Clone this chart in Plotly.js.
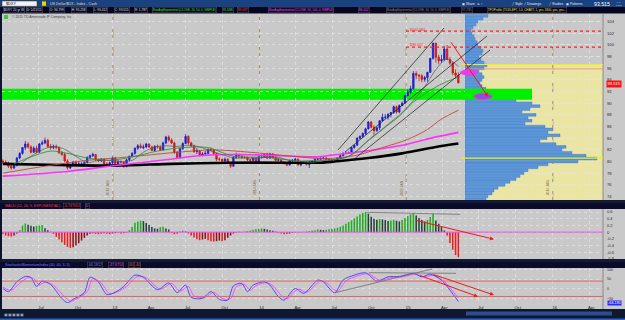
<!DOCTYPE html>
<html><head><meta charset="utf-8">
<script src="https://cdn.plot.ly/plotly-3.0.1.min.js"></script>
<style>html,body{margin:0;padding:0;background:#0c1430;overflow:hidden}#chart{width:625px;height:320px}</style>
</head><body><div id="chart"></div>
<script>
// ---------------- DATA (weekly $DXY, Apr 2012 - May 2015) ----------------
const weekStart = [2012, 3, 2]; // first weekly bar: Mon 2 Apr 2012
const opens = [80.1,79.9,79.8,79.2,78.9,79.3,80.6,81.4,82.4,83.0,
 82.5,81.6,82.3,81.6,83.0,83.2,83.6,82.6,82.4,82.6,
 82.4,81.5,81.2,80.1,78.9,79.4,79.9,79.5,79.6,79.6,
 79.8,80.7,81.0,81.2,80.3,80.1,80.4,79.6,79.5,79.8,
 80.6,79.6,80.0,79.9,79.2,80.3,80.9,81.4,82.3,82.7,
 82.4,82.5,83.0,82.5,81.9,82.6,82.5,82.0,83.2,84.2,
 83.7,83.2,81.6,80.7,82.2,83.1,84.3,83.2,82.7,81.7,
 81.9,81.1,81.3,81.4,82.1,82.0,81.4,80.4,80.4,80.1,
 80.4,79.7,79.2,80.7,81.2,80.9,80.7,80.7,80.3,80.2,
 80.6,80.0,80.8,80.7,81.2,80.6,81.3,80.7,80.2,80.3,
 79.7,79.7,79.4,80.2,80.2,80.4,79.4,79.9,79.8,79.5,
 79.9,80.0,80.4,80.4,80.5,80.6,80.4,80.1,80.2,80.2,
 80.6,81.0,81.4,81.4,81.5,82.4,82.8,84.0,84.3,84.8,
 85.6,86.8,85.9,85.3,85.8,87.0,87.6,87.6,88.1,88.4,
 89.4,88.5,89.6,90.0,91.3,91.9,92.5,95.1,94.8,94.7,
 94.1,94.4,95.3,97.7,100.3,97.9,97.3,97.5,99.3,97.5,
 96.9,95.2,94.8];
const highs = [80.4,80.2,80.0,79.4,79.6,80.8,81.6,82.5,83.5,83.3,
 82.8,82.6,82.7,83.2,83.6,84.1,83.9,83.0,82.9,82.9,
 82.6,81.8,81.5,80.4,79.6,80.1,80.2,80.0,79.9,80.0,
 80.9,81.2,81.5,81.3,80.5,80.6,80.5,79.9,80.0,80.8,
 80.8,80.3,80.2,80.0,80.5,81.0,81.6,82.4,83.0,83.1,
 82.9,83.2,83.1,82.7,82.8,82.9,82.7,83.4,84.4,84.5,
 84.0,83.4,81.8,82.4,83.3,84.7,84.5,83.4,82.9,82.3,
 82.0,81.6,81.8,82.2,82.4,82.1,81.5,80.7,80.5,80.7,
 80.6,79.9,80.9,81.5,81.4,81.3,81.0,80.9,80.5,80.8,
 80.7,81.0,81.2,81.4,81.5,81.5,81.4,80.9,80.6,80.4,
 80.1,79.9,80.3,80.4,80.6,80.5,80.0,80.0,79.9,80.1,
 80.2,80.5,80.6,80.8,80.8,80.8,80.5,80.4,80.4,80.7,
 81.1,81.6,81.7,81.7,82.5,82.9,84.2,84.5,85.0,85.8,
 86.9,86.9,86.2,86.0,87.1,88.2,88.1,88.3,88.5,89.6,
 89.6,89.8,90.3,91.5,92.3,93.0,95.5,95.5,95.0,95.0,
 94.7,95.4,97.8,100.4,100.4,98.3,98.3,99.8,100.0,97.9,
 97.0,95.8,95.3];
const lows = [79.6,79.5,78.9,78.6,78.7,79.2,80.4,81.2,82.0,82.2,
 81.4,81.5,81.4,81.5,82.8,83.0,82.4,82.0,82.1,82.1,
 81.3,81.0,79.9,78.6,78.7,79.2,79.3,79.2,79.2,79.3,
 79.7,80.4,80.8,80.1,79.9,79.9,79.4,79.2,79.3,79.5,
 79.4,79.4,79.6,78.9,79.0,80.0,80.7,81.2,82.0,82.2,
 82.1,82.3,82.3,81.8,81.7,82.2,81.8,81.9,83.0,83.4,
 83.0,81.3,80.5,80.5,82.0,83.0,82.9,82.5,81.5,81.3,
 80.9,80.9,81.0,81.2,81.8,81.2,80.1,80.1,79.8,79.9,
 79.6,78.9,79.1,80.5,80.6,80.5,80.5,80.1,79.9,79.9,
 79.9,79.9,80.5,80.6,80.4,80.5,80.5,80.0,80.0,79.6,
 79.5,79.2,79.3,79.9,80.0,79.3,79.2,79.6,79.3,78.9,
 79.7,79.8,80.2,80.3,80.4,80.3,79.9,79.8,80.0,80.1,
 80.5,80.9,81.2,81.3,81.4,82.2,82.7,83.8,84.0,84.6,
 85.5,85.7,84.5,85.1,85.4,86.9,87.3,87.2,87.6,88.2,
 88.2,88.3,89.5,89.9,91.2,91.6,92.4,94.1,93.8,93.6,
 93.7,93.7,95.2,97.5,97.0,96.7,96.9,97.3,97.4,96.6,
 94.8,94.3,93.4];
const closes = [79.9,79.8,79.2,78.9,79.3,80.6,81.4,82.4,83.0,82.5,
 81.6,82.3,81.6,83.0,83.2,83.6,82.6,82.4,82.6,82.4,
 81.5,81.2,80.1,78.9,79.4,79.9,79.5,79.6,79.6,79.8,
 80.7,81.0,81.2,80.3,80.1,80.4,79.6,79.5,79.8,80.6,
 79.6,80.0,79.9,79.2,80.3,80.9,81.4,82.3,82.7,82.4,
 82.5,83.0,82.5,81.9,82.6,82.5,82.0,83.2,84.2,83.7,
 83.2,81.6,80.7,82.2,83.1,84.3,83.2,82.7,81.7,81.9,
 81.1,81.3,81.4,82.1,82.0,81.4,80.4,80.4,80.1,80.4,
 79.7,79.2,80.7,81.2,80.9,80.7,80.7,80.3,80.2,80.6,
 80.0,80.8,80.7,81.2,80.6,81.3,80.7,80.2,80.3,79.7,
 79.7,79.4,80.2,80.2,80.4,79.4,79.9,79.8,79.5,79.9,
 80.0,80.4,80.4,80.5,80.6,80.4,80.1,80.2,80.2,80.6,
 81.0,81.4,81.4,81.5,82.4,82.8,84.0,84.3,84.8,85.6,
 86.8,85.9,85.3,85.8,87.0,87.6,87.6,88.1,88.4,89.4,
 88.5,89.6,90.0,91.3,91.9,92.5,95.1,94.8,94.7,94.1,
 94.4,95.3,97.7,100.3,97.9,97.3,97.5,99.3,97.5,96.9,
 95.2,94.8,93.515];

// moving averages (week index -> value)
const maGrayIdx = [6,10,14,18,22,26,30,34,38,42,46,50,54,58,62,66,70,74,78,82,86,90,94,98,102,106,110,114,118,122,126,130,134,138,142,146,150,154,158,162];
const maGrayVal = [79.6,80.9,82.0,82.6,82.1,80.9,79.8,80.2,80.2,80.0,80.2,81.6,82.5,82.7,82.6,82.8,82.5,81.8,81.2,80.6,80.6,80.6,80.7,80.7,80.2,80.0,79.8,80.2,80.3,80.7,81.8,83.7,85.2,86.8,88.4,90.5,92.8,95.8,97.6,96.3];
const maGreenIdx = [4,10,17,24,29,38,46,55,64,73,82,94,105,112,117,123,129,135,141,146,151,156,162];
const maGreenVal = [79.6,80.8,81.8,81.3,80.7,80.2,80.8,81.8,82.4,82.4,80.9,80.7,80.1,80.2,80.3,80.9,83.2,85.5,87.8,90.2,91.9,93.3,94.5];
const maRedIdx = [0,15,30,45,60,75,90,105,115,125,135,144,151,156,162];
const maRedVal = [78.0,79.2,80.2,80.8,81.5,82.0,81.5,80.8,80.5,81.0,82.4,83.8,85.5,87.3,88.8];
const maPinkIdx = [0,23,38,58,70,82,99,112,117,129,141,153,162];
const maPinkVal = [77.5,78.3,79.2,80.3,81.0,81.2,81.0,80.8,81.1,81.8,82.7,84.1,85.0];
const maBlackIdx = [0,20,40,60,80,100,113,118,130,142,154,162];
const maBlackVal = [79.6,79.4,79.3,79.6,79.8,79.8,79.8,80.0,80.6,81.4,82.5,83.1];

// volume (TPO) profile by price
const profilePrices = [105,104.5,104,103.5,103,102.5,102,101.5,101,100.5,100,99.5,99,98.5,98,97.5,97,96.5,96,95.5,95,94.5,94,93.5,93,92.5,92,91.5,91,90.5,90,89.5,89,88.5,88,87.5,87,86.5,86,85.5,85,84.5,84,83.5,83,82.5,82,81.5,81,80.5,80,79.5,79,78.5,78,77.5,77,76.5,76,75.5,75,74.5,74,73.5];
const profileVolume = [23,18,13,11,8,6,7,9,10,12,13,16,18,17,14,16,19,22,19,14,17,19,17,15,17,21,25,29,35,51,67,75,65,57,71,63,67,60,80,88,83,95,82,75,91,101,97,107,121,132,113,83,73,63,59,55,51,45,40,33,29,27,23,21];

// MACD histogram (weekly)
const macdHist = [-0.05,-0.10,-0.12,-0.13,-0.10,-0.04,
 0.06,0.20,0.26,0.22,0.19,0.17,0.18,0.20,0.21,0.12,0.06,0.01,
 -0.05,-0.14,-0.22,-0.30,-0.38,-0.44,-0.47,-0.45,-0.40,-0.33,-0.25,-0.17,-0.10,-0.05,
 -0.03,-0.05,-0.06,-0.04,-0.03,-0.05,-0.06,-0.04,-0.03,-0.02,-0.04,-0.03,-0.01,
 0.06,0.15,0.28,0.32,0.34,0.33,0.27,0.21,0.15,0.11,0.10,0.15,0.16,0.11,0.08,
 -0.03,-0.06,-0.04,0.02,0.04,0.02,
 -0.04,-0.10,-0.16,-0.21,-0.24,-0.22,-0.20,-0.24,-0.27,-0.28,-0.27,-0.25,-0.27,-0.24,-0.17,-0.10,
 -0.04,-0.02,0.01,-0.01,0.02,0.03,
 0.05,0.07,0.09,0.10,0.11,0.10,0.08,0.06,0.04,0.02,
 -0.02,-0.04,-0.06,-0.05,-0.04,-0.02,-0.01,-0.02,-0.01,0.01,0.02,
 0.03,0.05,0.06,0.08,0.07,0.06,0.07,0.09,0.10,0.11,
 0.13,0.16,0.20,0.25,0.30,0.35,0.41,0.47,0.53,0.58,
 0.60,0.55,0.46,0.40,0.37,0.39,0.38,0.36,0.33,0.35,
 0.37,0.34,0.32,0.36,0.42,0.48,0.53,0.57,0.50,0.42,
 0.36,0.32,0.36,0.45,0.55,0.35,0.25,0.15,
 0.05,-0.10,-0.32,-0.52,-0.68,-0.747];

// Stochastic Momentum Index (week index -> value)
const smiIdx = [0,2,5,8,10,12,14,17,21,23,25,29,31,34,37,40,43,47,50,55,59,62,65,67,71,74,77,80,82,85,87,89,93,95,98,100,104,107,112,114,118,121,125,129,133,137,141,146,149,152,156,159,162];
const smiVal = [2,-15,36,64,59,12,40,22,-50,-73,-55,-20,60,35,-30,-18,12,71,60,-5,30,-20,19,-45,-50,-15,-55,-59,15,28,-15,19,36,19,-41,-59,2,-24,45,36,-21,45,71,83,40,62,64,80,62,76,45,-7,-66];
const smiAvgIdx = [0,3,6,9,11,13,15,18,22,24,26,30,32,35,38,41,44,48,51,56,60,63,66,68,72,75,78,81,83,86,88,90,94,96,99,101,105,108,113,115,119,122,126,130,134,138,142,147,150,153,157,160,162];
const smiAvgVal = [8,-8,28,58,52,20,34,18,-42,-65,-55,-15,52,30,-25,-14,12,64,56,-2,28,-12,12,-38,-44,-18,-50,-52,10,22,-8,16,32,16,-34,-52,-2,-18,40,32,-12,40,66,78,44,58,62,76,62,70,38,-12,-48];

// axis ticks
const quarterTicks = ['2012-07-01','2012-10-01','2013-01-01','2013-04-01','2013-07-01','2013-10-01','2014-01-01','2014-04-01','2014-07-01','2014-10-01','2015-01-01','2015-04-01','2015-07-01','2015-10-01','2016-01-01','2016-04-01'];
const quarterLabels = ['Jul','Oct','13','Apr','Jul','Oct','14','Apr','Jul','Oct','15','Apr','Jul','Oct','16','Apr'];
const yearLines = ['2013-01-01','2014-01-01','2015-01-01','2016-01-01'];
const yearLabels = ['2013 JAN','2014 JAN','2015 JAN','2016 JAN'];
const priceTicks = [74,76,78,80,82,84,86,88,90,92,94,96,98,100,102,104];
const macdTicks = [-0.8,-0.6,-0.4,-0.2,0,0.2,0.4,0.6];
const smiTicks = [-50,0,50,100];

// ---------------- BUILD ----------------
const weeks = closes.map((_, i) => {
  const d = new Date(Date.UTC(weekStart[0], weekStart[1], weekStart[2] + 7 * i));
  return d.toISOString().slice(0, 10);
});
const at = idx => idx.map(i => weeks[i]);
const P = x => x / 625, Q = y => 1 - y / 320;
const FONT = 'Liberation Sans, Arial, sans-serif';

const macdColors = macdHist.map((v, i) => {
  const prev = i > 0 ? macdHist[i - 1] : v;
  if (v >= 0) return v >= prev ? '#1eb01e' : '#234538';
  return v <= prev ? '#f01c1c' : '#8c1414';
});

const lineTrace = (idx, val, color, width, yaxis) => ({
  type: 'scatter', mode: 'lines', x: at(idx), y: val, xaxis: 'x', yaxis: yaxis || 'y',
  line: {color, width, shape: 'spline', smoothing: 0.8}, hoverinfo: 'skip'
});

const data = [
  lineTrace(maBlackIdx, maBlackVal, '#000000', 2.6),
  lineTrace(maPinkIdx, maPinkVal, '#ff30ff', 1.6),
  lineTrace(maRedIdx, maRedVal, '#c8413c', 0.9),
  lineTrace(maGreenIdx, maGreenVal, '#2e9a36', 0.9),
  lineTrace(maGrayIdx, maGrayVal, '#5a5a5a', 0.7),
  {
    type: 'candlestick', x: weeks, open: opens, high: highs, low: lows, close: closes,
    xaxis: 'x', yaxis: 'y', whiskerwidth: 0, hoverinfo: 'skip',
    increasing: {line: {color: '#1a1ac8', width: 0.8}, fillcolor: '#2424e6'},
    decreasing: {line: {color: '#c81414', width: 0.8}, fillcolor: '#e61e1e'}
  },
  {
    type: 'bar', orientation: 'h', x: profileVolume, y: profilePrices, xaxis: 'x2', yaxis: 'y',
    width: 0.47, marker: {color: '#5b97dd', line: {color: '#3e76c2', width: 0.4}}, hoverinfo: 'skip'
  },
  {
    type: 'bar', x: weeks, y: macdHist, xaxis: 'x', yaxis: 'y2',
    marker: {color: macdColors, line: {width: 0}}, hoverinfo: 'skip'
  },
  lineTrace(smiAvgIdx, smiAvgVal, '#ff4cff', 1, 'y3'),
  lineTrace(smiIdx, smiVal, '#4a4aff', 1, 'y3')
];

// shapes
const rect = (x0, y0, x1, y1, fill, layer, line) => ({type: 'rect', xref: 'paper', yref: 'paper',
  x0: P(x0), x1: P(x1), y0: Q(y1), y1: Q(y0), fillcolor: fill, line: line || {width: 0}, layer: layer || 'below'});
const seg = (x0, y0, x1, y1, color, w, dash) => ({type: 'line', xref: 'paper', yref: 'paper',
  x0: P(x0), y0: Q(y0), x1: P(x1), y1: Q(y1), line: {color, width: w || 1, dash: dash || 'solid'}, layer: 'above'});
const hline = (x0, x1, yref, v, color, w, dash, layer) => ({type: 'line', xref: 'paper', yref,
  x0: P(x0), x1: P(x1), y0: v, y1: v, line: {color, width: w || 1, dash: dash || 'solid'}, layer: layer || 'above'});

const shapes = [
  rect(0, 0, 625, 7, '#1b4280'),
  rect(0, 7, 625, 13.5, '#06061e'),
  rect(2, 13.5, 625, 200, '#c9c9c9'),
  rect(0, 200, 625, 203, '#141a30'),
  rect(0, 203, 625, 209, '#0a0a2c'),
  rect(2, 209, 625, 259, '#c9c9c9'),
  rect(0, 259, 625, 262, '#141a30'),
  rect(0, 262, 625, 268, '#0a0a2c'),
  rect(2, 268, 625, 309, '#c9c9c9'),
  rect(0, 309, 625, 320, '#101830'),
  // value area (yellow)
  {type: 'rect', xref: 'paper', yref: 'y', x0: P(465), x1: P(603), y0: 73.4, y1: 96.65, fillcolor: '#ebe5a4', line: {width: 0}, layer: 'below'},
  // green support band (left part, under the candles)
  {type: 'rect', xref: 'paper', yref: 'y', x0: P(2), x1: P(465), y0: 90.6, y1: 92.5, fillcolor: '#00f000', line: {width: 0}, layer: 'below'},
  // green band over the profile
  {type: 'rect', xref: 'paper', yref: 'y', x0: P(465), x1: P(532), y0: 90.6, y1: 92.5, fillcolor: '#00f000', line: {width: 0}, layer: 'above'},
  // axis separators
  seg(603, 13.5, 603, 200, '#7a7a7a', 0.8), seg(603, 209, 603, 259, '#7a7a7a', 0.8), seg(603, 268, 603, 309, '#7a7a7a', 0.8),
  // key levels
  hline(406, 603, 'y', 102.38, '#ff2020', 1.2, 'dot'),
  hline(406, 603, 'y', 99.62, '#ff2020', 1.2, 'dot'),
  hline(461, 603, 'y', 96.65, '#f4f000', 1),
  hline(465, 603, 'y', 95.9, '#f08a78', 0.8),
  hline(461, 603, 'y', 80.6, '#f4f000', 1.2),
  // channel drawings
  seg(338, 150, 444, 28, '#1a1a1a', 0.7),
  seg(345, 152, 487, 36, '#1a1a1a', 0.7),
  seg(353, 160, 490, 50, '#1a1a1a', 0.7),
  // ellipses
  {type: 'circle', xref: 'paper', yref: 'paper', x0: P(460), x1: P(478), y0: Q(75.5), y1: Q(69.5), fillcolor: '#ee38ee', line: {width: 0}, layer: 'above'},
  {type: 'circle', xref: 'paper', yref: 'paper', x0: P(474), x1: P(492), y0: Q(99.5), y1: Q(93.3), fillcolor: '#8c4ee2', line: {color: '#e040e0', width: 1}, layer: 'above'},
  // MACD zero & drawing
  hline(2, 603, 'y2', 0, '#ff40ff', 1),
  seg(367, 212.3, 460, 214.3, '#7a7a7a', 0.9),
  // SMI levels & drawings
  hline(2, 603, 'y3', 40, '#e06464', 1),
  hline(2, 603, 'y3', -40, '#e06464', 1),
  seg(335, 292.7, 432, 269, '#6e6e6e', 0.8),
  seg(369, 272.7, 456, 273.3, '#6e6e6e', 0.8),
  // symbol box & icon
  rect(2, 1, 37, 6.3, '#f2f2f2', 'above', {color: '#333', width: 0.5}),
  rect(42, 1.4, 46, 5.8, '#f0d000', 'above'),
  rect(4, 15, 8, 19, '#3cc83c', 'above')
];
yearLines.forEach(d => shapes.push({type: 'line', xref: 'x', yref: 'paper', x0: d, x1: d, y0: Q(200), y1: Q(13.5),
  line: {color: '#a58d62', width: 1, dash: 'dash'}, layer: 'below'}));

// annotations
const txt = (x, y, text, color, size, extra) => Object.assign({xref: 'paper', yref: 'paper', x: P(x), y: Q(y), text,
  showarrow: false, xanchor: 'left', yanchor: 'middle', font: {family: FONT, size: size || 3.6, color: color || '#ddd'}}, extra || {});
const box = (x, y, text, color, size) => txt(x, y, text, color, size, {bordercolor: '#555', borderwidth: 0.5, borderpad: 0.3, bgcolor: '#06061e'});
const arrow = (x0, y0, x1, y1, color) => ({xref: 'paper', yref: 'paper', x: P(x1), y: Q(y1), ax: x0 - x1, ay: y0 - y1,
  axref: 'pixel', ayref: 'pixel', text: '', showarrow: true, arrowhead: 2, arrowsize: 0.8, arrowwidth: 1, arrowcolor: color});

const annotations = [
  txt(4, 3.7, '$DXY', '#000', 3.8),
  txt(48, 3.7, 'US Dollar/$DX - Index - Cash', '#e8dca8', 3.6),
  txt(460, 3.7, '\u25A3 Share  \u21C5 \u2195', '#e8e8f0', 3.4),
  txt(509, 3.7, '\u2571 Style', '#e8e8f0', 3.4),
  txt(521, 3.7, '\u2571 Drawings', '#e8e8f0', 3.4),
  txt(546, 3.7, '\u2571 Studies', '#e8e8f0', 3.4),
  txt(564, 3.7, '\u25A3 Patterns', '#e8e8f0', 3.4),
  txt(592, 3.8, '93.515', '#ffffff', 5.2),
  txt(613, 3.6, '-1.44<br>-1.53%', '#c8c8d8', 2.2),
  box(3, 10.2, '$DXY 20 yr W', '#d8d8ff', 3.2),
  box(26, 10.2, 'D: 5/21/15', '#e0e0e0', 3.2),
  box(49, 10.2, 'O: 94.799', '#e0e0e0', 3.2),
  box(71, 10.2, 'H: 95.258', '#e0e0e0', 3.2),
  box(93, 10.2, 'L: 93.412', '#e0e0e0', 3.2),
  box(114, 10.2, 'C: 93.515', '#e0e0e0', 3.2),
  box(134, 10.2, 'R: 1.787', '#e0e0e0', 3.2),
  box(152, 10.2, 'MovAvgExponential (CLOSE, 20, 50, 0, SIMPLE)', '#3ee03e', 2.9),
  box(222, 10.2, '95.588', '#3ee03e', 3.2),
  box(237, 10.2, '89.037', '#ff4040', 3.2),
  box(268, 10.2, 'MovAvgExponential (CLOSE, 50, 100, 0, SIMPLE)', '#ff40ff', 2.9),
  box(358, 10.2, '86.002', '#ff40ff', 3.2),
  box(386, 10.2, 'MovAvgExponential (CLOSE, 10, 10, 0, SIMPLE)', '#8c8c8c', 2.9),
  box(461, 10.2, '97.235', '#8c8c8c', 3.2),
  box(487, 10.2, 'TPOProfile (TICKLEFT, 1.0, CHART, 1, yes, 1800, yes, yes...', '#f0e040', 2.9),
  txt(10, 17.2, '\u00A9 2015 TD Ameritrade IP Company, Inc.', '#444', 3.4),
  txt(408, 30.2, '$102.384', '#ff2020', 3.6),
  txt(408, 45.2, '$99.617', '#ff2020', 3.6),
  txt(614, 84.3, '93.515', '#ffffff', 4.2, {xanchor: 'center', bgcolor: '#ff1010', borderpad: 0.4}),
  txt(3, 206, 'MACD (12, 26, 9, EXPONENTIAL)', '#ff3434', 3.6),
  box(63, 206, '-0.747052', '#ff3434'),
  box(85, 206, 'D', '#ff40ff'),
  txt(3, 265, 'StochasticMomentumIndex (40, 40, 3, 5)', '#7a7aff', 3.6),
  box(87, 265, '-66.1812', '#7a7aff'),
  box(108, 265, '-47.6714', '#ff40ff'),
  box(128, 265, '40', '#ff4040'),
  box(134, 265, '-40', '#ff4040'),
  txt(614, 302.8, '-66.181', '#ffffff', 3.8, {xanchor: 'center', bgcolor: '#2a2aff', borderpad: 0}),
  txt(2, 314.5, '\u25A3\u25A3\u25A3\u25A3\u25A3', '#9aa8c8', 4),
  arrow(450, 40.7, 488, 96.7, '#f01818'),
  arrow(414.5, 220, 494, 239.3, '#f01818'),
  arrow(418.5, 275, 478, 296.7, '#f01818'),
  arrow(432, 274, 494, 295, '#f01818')
];
yearLines.forEach((d, i) => annotations.push({xref: 'x', yref: 'paper', x: d, y: Q(188), text: yearLabels[i], textangle: -90,
  showarrow: false, xanchor: 'right', xshift: -0.5, font: {family: FONT, size: 3.4, color: '#8a7048'}}));
shapes.push(rect(466, 311.5, 612, 315.5, '#2b4f8e', 'above'));
shapes.push(rect(0, 318.5, 625, 320, '#2a62c8', 'above'));

const gridBase = {showgrid: true, gridcolor: '#e2e2e2', griddash: 'dot', gridwidth: 0.8, zeroline: false, showline: false, ticks: '', fixedrange: true};
const layout = {
  width: 625, height: 320, margin: {l: 0, r: 0, t: 0, b: 0},
  paper_bgcolor: '#0c1430', plot_bgcolor: 'rgba(0,0,0,0)', showlegend: false, bargap: 0.45, dragmode: false,
  font: {family: FONT, size: 4, color: '#222'},
  xaxis: Object.assign({}, gridBase, {type: 'date', domain: [P(2), P(603)], range: ['2012-03-31', '2016-05-05'], anchor: 'y3',
    tickmode: 'array', tickvals: quarterTicks, ticktext: quarterLabels, tickfont: {family: FONT, size: 4.2, color: '#222'},
    rangeslider: {visible: false}, ticklabelshift: 2, ticklabelstandoff: 1}),
  xaxis2: {domain: [P(465), P(603)], range: [0, 138], anchor: 'y', visible: false, fixedrange: true},
  yaxis: Object.assign({}, gridBase, {domain: [Q(200), Q(13.5)], range: [73.4, 105.4], anchor: 'x', side: 'right',
    tickmode: 'array', tickvals: priceTicks, tickfont: {family: FONT, size: 4.2, color: '#2a2a2a'}, ticklabelstandoff: 3}),
  yaxis2: Object.assign({}, gridBase, {domain: [Q(259), Q(209)], range: [-0.8, 0.69], anchor: 'x', side: 'right',
    tickmode: 'array', tickvals: macdTicks, ticktext: ['-0.8','-0.6','-0.4','-0.2','0','0.2','0.4','0.6'], tickfont: {family: FONT, size: 4, color: '#2a2a2a'}, ticklabelstandoff: 3}),
  yaxis3: Object.assign({}, gridBase, {domain: [Q(303), Q(268)], range: [-74, 108], anchor: 'x', side: 'right',
    tickmode: 'array', tickvals: smiTicks, tickfont: {family: FONT, size: 3.6, color: '#2a2a2a'}, ticklabelstandoff: 3}),
  shapes, annotations
};

Plotly.newPlot('chart', data, layout, {staticPlot: true, displayModeBar: false});
</script>
</body></html>
